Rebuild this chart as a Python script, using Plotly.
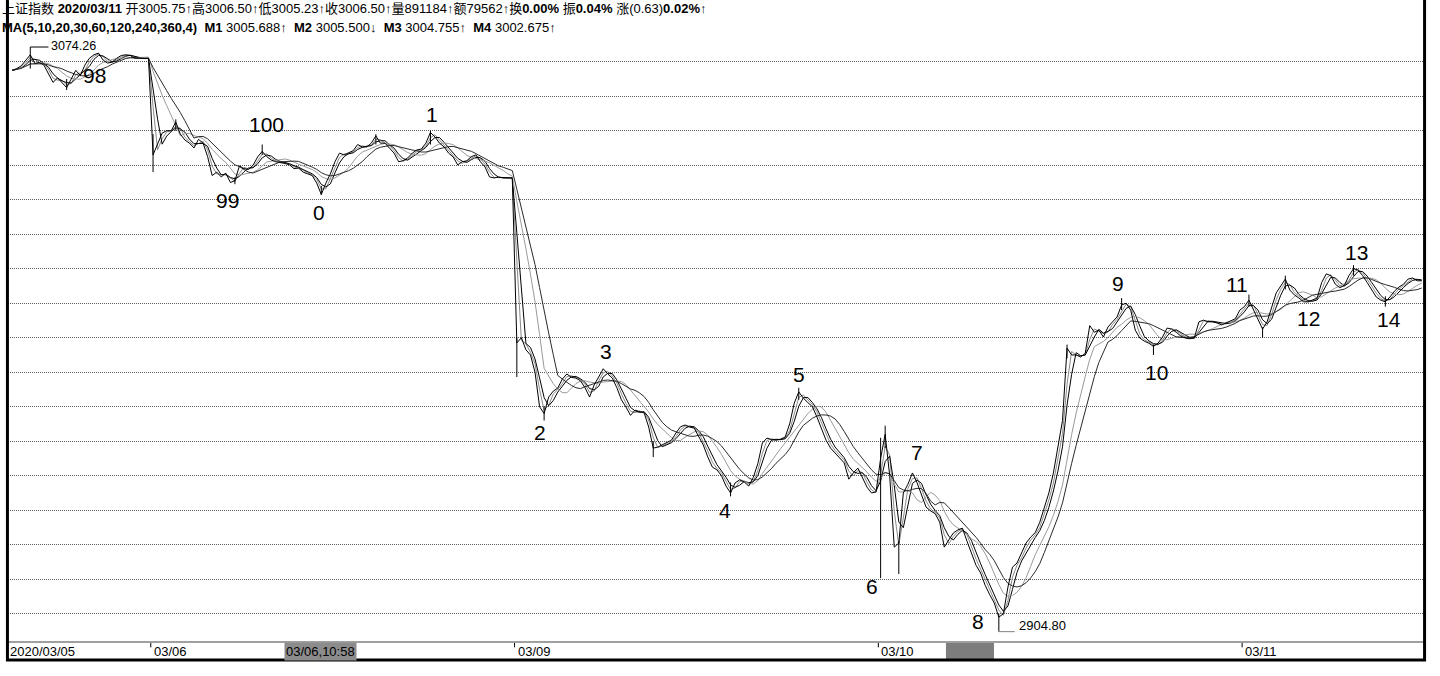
import pandas as pd
import plotly.graph_objects as go

# 3-minute closes, one list per trading day
day_labels = ["2020/03/05", "03/06", "03/09", "03/10", "03/11"]

close_0305 = [3067.5, 3068.0, 3068.8, 3070.5, 3072.0, 3069.5, 3069.8, 3069.0, 3066.5, 3064.0,
              3065.3, 3064.0, 3062.5, 3065.0, 3067.5, 3066.0, 3069.0, 3071.0, 3072.0, 3072.5,
              3070.5, 3069.6, 3069.9, 3071.0, 3071.8, 3072.0, 3071.8, 3071.0, 3071.0, 3070.8,
              3071.0]
close_0306 = [3043.0, 3046.0, 3049.3, 3050.0, 3050.0, 3052.5, 3049.0, 3047.3, 3046.4, 3045.0,
              3047.5, 3046.4, 3042.5, 3037.0, 3038.0, 3036.6, 3037.7, 3035.0, 3035.5, 3039.8,
              3039.0, 3038.8, 3040.0, 3042.4, 3044.0, 3042.5, 3041.5, 3041.0, 3040.8, 3040.5,
              3040.1, 3039.0, 3039.2, 3038.0, 3037.5, 3037.0, 3034.8, 3031.5, 3034.8, 3037.5,
              3041.0, 3043.5, 3043.0, 3043.5, 3044.2, 3046.0, 3045.3, 3045.3, 3046.4, 3048.5,
              3046.4, 3046.4, 3045.0, 3043.5, 3041.0, 3041.3, 3042.1, 3043.5, 3044.4, 3044.7,
              3046.4, 3049.5, 3048.2, 3046.4, 3045.3, 3043.5, 3042.4, 3040.1, 3041.0, 3041.3,
              3042.5, 3043.0, 3041.0, 3039.5, 3036.6, 3036.3, 3036.6, 3036.3, 3036.3, 3036.3]
close_0309 = [2988.5, 2990.0, 2986.5, 2985.0, 2980.0, 2970.0, 2968.0, 2972.8, 2974.5, 2975.4,
              2978.0, 2979.5, 2978.5, 2978.3, 2977.5, 2975.5, 2972.8, 2976.3, 2978.6, 2981.0,
              2979.5, 2978.3, 2975.5, 2972.0, 2969.9, 2967.5, 2969.0, 2968.5, 2968.2, 2964.1,
              2958.0, 2958.3, 2958.9, 2959.5, 2960.3, 2962.4, 2964.2, 2964.7, 2964.1, 2963.8,
              2961.2, 2958.9, 2955.4, 2952.5, 2951.7, 2950.0, 2947.0, 2945.0, 2947.9, 2948.8,
              2948.2, 2947.0, 2949.5, 2953.5, 2959.5, 2960.9, 2960.5, 2960.3, 2960.6, 2961.2,
              2965.0, 2971.0, 2974.3, 2972.5, 2971.2, 2970.0, 2967.0, 2963.5, 2960.3, 2958.0,
              2956.6, 2955.4, 2953.7, 2949.0, 2950.8, 2952.2, 2949.6, 2946.7, 2945.0, 2945.3]
close_0310 = [2955.0, 2962.0, 2950.0, 2929.3, 2930.5, 2945.0, 2947.5, 2950.8, 2948.0, 2944.5,
              2940.9, 2939.8, 2939.0, 2936.5, 2929.3, 2931.4, 2933.4, 2934.3, 2934.8, 2931.0,
              2927.6, 2924.0, 2921.8, 2918.2, 2915.5, 2913.1, 2909.0, 2910.0, 2917.7, 2923.5,
              2924.7, 2927.6, 2930.5, 2932.2, 2933.5, 2936.5, 2940.9, 2945.0, 2950.8, 2958.3,
              2966.0, 2987.0, 2985.0, 2985.0, 2984.4, 2985.5, 2993.5, 2991.6, 2992.2, 2990.2,
              2993.1, 2994.6, 2996.0, 2999.5, 3000.0, 2998.0, 2992.2, 2989.9, 2989.0, 2988.4,
              2987.5, 2988.4, 2990.2, 2992.8, 2992.5, 2991.6, 2990.5, 2989.9, 2989.7, 2990.0,
              2994.6, 2995.1, 2994.6, 2994.6, 2994.3, 2993.7, 2994.3, 2994.8, 2995.5, 2998.0]
close_0311 = [2999.0, 3000.9, 2998.0, 2995.1, 2992.5, 2994.6, 2999.0, 3003.0, 3005.0, 3007.0,
              3003.8, 3002.4, 3001.5, 3000.4, 3000.4, 3000.9, 3001.5, 3006.0, 3008.5, 3008.0,
              3005.5, 3004.5, 3005.2, 3008.0, 3010.0, 3009.6, 3008.0, 3006.0, 3004.0, 3001.8,
              3000.9, 3000.4, 3001.8, 3003.5, 3004.7, 3005.5, 3007.0, 3007.3, 3006.5, 3006.5]

# long shadows of single bars (bar index, low, high)
wick_bars = [4, 12, 31, 36, 49, 55, 68, 80, 92, 111, 117, 141, 158, 173,
             191, 192, 195, 217, 232, 244, 251, 272, 275, 280, 295, 302]
wick_lows = [3068.0, 3061.8, 3038.0, 3050.0, 3034.5, 3043.0, 3031.4, 3046.0, 3046.0, 2978.6,
             2966.0, 2955.4, 2944.0, 2972.0, 2920.3, 2958.0, 2921.5, 2904.80, 2984.0, 2998.0,
             2985.0, 2999.0, 2990.0, 3004.0, 3008.0, 2999.0]
wick_highs = [3074.26, 3065.0, 3049.0, 3053.3, 3036.5, 3046.0, 3034.0, 3049.0, 3050.0, 2990.0,
              2970.0, 2960.0, 2948.0, 2975.5, 2961.0, 2964.5, 2931.0, 2910.0, 2988.0, 3001.5,
              2988.0, 3002.5, 2993.0, 3008.0, 3011.0, 3002.0]

# wave count labels
wave_labels = ["98", "100", "99", "0", "1", "2", "3", "4", "5", "6", "7", "8", "9",
               "10", "11", "12", "13", "14"]
wave_bars = [18.2, 56.0, 47.4, 67.6, 92.4, 116.1, 130.6, 156.8, 173.0, 189.0, 198.9,
             212.5, 243.3, 251.6, 269.4, 285.2, 295.6, 302.8]
wave_prices = [3065.9, 3051.7, 3029.9, 3026.4, 3054.8, 2962.4, 2985.9, 2939.8, 2979.2,
               2918.0, 2956.6, 2907.6, 3005.8, 2980.0, 3005.3, 2995.7, 3014.6, 2995.4]

ma_periods = [2, 3, 7, 10]  # on 3-minute bars ~ MA 5/10/20/30 minutes
grid_levels = list(range(2910, 3071, 10))

days = [close_0305, close_0306, close_0309, close_0310, close_0311]
closes = sum(days, [])
bars = list(range(len(closes)))
day_starts = [0]
for d in days[:-1]:
    day_starts.append(day_starts[-1] + len(d))

s = pd.Series(closes)
mas = [s.rolling(p, min_periods=1).mean() for p in ma_periods]

fig = go.Figure()

ma_colors = ["#8a8a8a", "#000000", "#9a9a9a", "#2a2a2a"]
for ma, c in zip(mas, ma_colors):
    fig.add_trace(go.Scatter(x=bars, y=ma, mode="lines", line=dict(color=c, width=1),
                             hoverinfo="skip"))

fig.add_trace(go.Scatter(x=bars, y=closes, mode="lines",
                         line=dict(color="#000000", width=1), hoverinfo="skip"))

wx, wy = [], []
for b, lo, hi in zip(wick_bars, wick_lows, wick_highs):
    wx += [b, b, None]
    wy += [lo, hi, None]
fig.add_trace(go.Scatter(x=wx, y=wy, mode="lines", line=dict(color="#000000", width=1),
                         hoverinfo="skip"))

# max / min markers
hi_i = wick_highs.index(max(wick_highs))
lo_i = wick_lows.index(min(wick_lows))
hb, hv = wick_bars[hi_i], wick_highs[hi_i]
lb, lv = wick_bars[lo_i], wick_lows[lo_i]
fig.add_shape(type="line", x0=hb, x1=hb + 4, y0=hv, y1=hv, line=dict(color="#000", width=1))
fig.add_shape(type="line", x0=lb, x1=lb + 3.5, y0=lv, y1=lv, line=dict(color="#808080", width=1))
fig.add_annotation(x=hb + 4.1, y=hv, text=f"{hv:.2f}", showarrow=False, xanchor="left",
                   yanchor="middle", yshift=1, font=dict(size=12.5, color="#000"))
fig.add_annotation(x=lb + 3.9, y=lv, text=f"{lv:.2f}", showarrow=False, xanchor="left",
                   yanchor="middle", yshift=6, font=dict(size=13, color="#000"))

for t, b, p in zip(wave_labels, wave_bars, wave_prices):
    fig.add_annotation(x=b, y=p, text=t, showarrow=False,
                       font=dict(size=21, color="#000", family="Liberation Sans, Arial"))

# header
hdr_font = dict(size=13, color="#000", family="Liberation Sans, Noto Sans CJK SC")
fig.add_annotation(xref="paper", yref="paper", x=-0.0058, y=1.0, xanchor="left", yanchor="middle",
                   yshift=0, showarrow=False, align="left", font=hdr_font,
                   text="上证指数 <b>2020/03/11</b> 开3005.75↑高3006.50↑低3005.23↑收3006.50↑"
                        "量891184↑额79562↑换<b>0.00%</b> 振<b>0.04%</b> 涨(0.63)<b>0.02%</b>↑")
fig.add_annotation(xref="paper", yref="paper", x=-0.0058, y=1.0, xanchor="left", yanchor="middle",
                   yshift=-19, showarrow=False, align="left", font=hdr_font,
                   text="<b>MA(5,10,20,30,60,120,240,360,4)</b>&nbsp;&nbsp;<b>M1</b> 3005.688↑&nbsp;&nbsp;"
                        "<b>M2</b> 3005.500↓&nbsp;&nbsp;<b>M3</b> 3004.755↑&nbsp;&nbsp;<b>M4</b> 3002.675↑")

# date axis band
ax_font = dict(size=13, color="#000", family="Liberation Sans, Arial")
for i, (lab, st) in enumerate(zip(day_labels, day_starts)):
    x0 = -0.9 if i == 0 else st - 0.5
    fig.add_annotation(x=x0, xref="x", y=-0.0158, yref="paper", text=lab, showarrow=False,
                       xanchor="left", yanchor="middle", xshift=0 if i == 0 else 1, font=ax_font)
    if i > 0:
        fig.add_shape(type="line", xref="x", yref="paper", x0=x0, x1=x0, y0=-0.003, y1=-0.01,
                      line=dict(color="#000", width=1))

fig.add_annotation(x=day_starts[1] - 0.5 + 88 / 3, xref="x", y=-0.0158, yref="paper",
                   text="03/06,10:58", showarrow=False, xanchor="left", yanchor="middle",
                   bgcolor="#8c8c8c", borderpad=1, font=ax_font)
fig.add_shape(type="rect", xref="paper", yref="paper", x0=0.6624, x1=0.6963, y0=-0.0032,
              y1=-0.0284, fillcolor="#7d7d7d", line=dict(width=0))
fig.add_shape(type="line", xref="paper", yref="paper", x0=-0.0004, x1=1.0004, y0=-0.0016,
              y1=-0.0016, line=dict(color="#808080", width=1.5))

# frame
fig.add_shape(type="path", xref="paper", yref="paper",
              path="M -0.0004 1.02 L -0.0004 -0.030 L 1.0004 -0.030 L 1.0004 1.02",
              line=dict(color="#000", width=3))

fig.update_xaxes(range=[-0.9, 310.5], showgrid=False, showticklabels=False, zeroline=False,
                 showline=False, ticks="")
fig.update_yaxes(range=[2902.09, 3085.57], tickvals=grid_levels, showticklabels=False,
                 showgrid=True, gridcolor="#5a5a5a", gridwidth=1, griddash="1px,1px",
                 zeroline=False, showline=False, ticks="")
fig.update_layout(width=1440, height=676, margin=dict(l=8, r=16, t=8, b=35),
                  plot_bgcolor="#ffffff", paper_bgcolor="#ffffff", showlegend=False,
                  font=dict(family="Liberation Sans, Arial, Noto Sans CJK SC"))

fig.write_html("out.html", config={"displayModeBar": False},
               post_script="document.body.style.margin='0px';")
